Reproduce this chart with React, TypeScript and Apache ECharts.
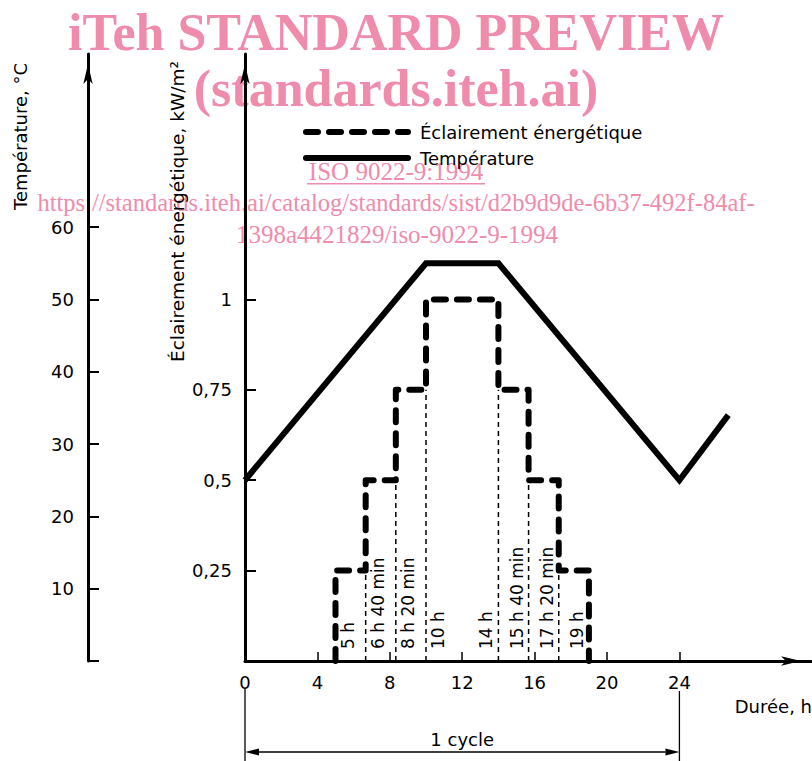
import React, { useEffect, useRef } from "react";
import * as echarts from "echarts";

// ---- data ----
const hourLabels = [0, 4, 8, 12, 16, 20, 24];
const hourTicks = [4, 8, 12, 16, 20, 24];
const tempLabels = [10, 20, 30, 40, 50, 60];
const tempTicks = [0, 10, 20, 30, 40, 50, 60];
const irrLabels = [0.25, 0.5, 0.75, 1];

const tempHours = [0, 10, 14, 24, 26.7];
const tempValues = [25, 55, 55, 25, 34];

const stepHours = [5, 6.667, 8.333, 10, 14, 15.667, 17.333, 19];
const stepLevels = [0.25, 0.5, 0.75, 1, 0.75, 0.5, 0.25, 0];

const guideHours = [6.667, 8.333, 10, 14, 15.667, 17.333];
const guideTops = [0.25, 0.5, 0.75, 0.75, 0.5, 0.25];

const markHours = [5, 6.667, 8.333, 10, 14, 15.667, 17.333, 19];
const markTexts = ["5 h", "6 h 40 min", "8 h 20 min", "10 h", "14 h", "15 h 40 min", "17 h 20 min", "19 h"];
const markSides = [1, 1, 1, 1, -1, -1, -1, -1];

const cycleHours = [0, 24];

const NAME_IRR = "Éclairement énergétique";
const NAME_TEMP = "Température";

const FONT = '"DejaVu Sans", "Noto Sans", sans-serif';
const SERIF = '"Liberation Serif", "DejaVu Serif", serif';
const PINK = "#ef8cab";

export default function App() {
  const ref = useRef<HTMLDivElement>(null);

  useEffect(() => {
    document.body.style.margin = "0";
    if (!ref.current) return;
    const chart = echarts.init(ref.current, undefined, { renderer: "svg" });

    const stepData: number[][] = [];
    let prev = 0;
    stepHours.forEach((h, i) => {
      stepData.push([h, prev]);
      stepData.push([h, stepLevels[i]]);
      prev = stepLevels[i];
    });

    const irrMax = 1.6787;
    const tempMax = irrMax * 50;

    const axisLine = {
      show: true,
      onZero: false,
      lineStyle: { color: "#000", width: 3 },
      symbol: ["none", "arrow"],
      symbolSize: [7, 20],
      symbolOffset: [0, -10],
    };
    const labelStyle = { color: "#000", fontSize: 18, fontFamily: FONT };

    const option: any = {
      animation: false,
      backgroundColor: "#fff",
      grid: { left: 245, top: 54, right: 1, bottom: 100, containLabel: false },
      legend: {
        data: [NAME_IRR, NAME_TEMP],
        orient: "vertical",
        left: 298,
        top: 118,
        itemWidth: 102,
        itemHeight: 14,
        itemGap: 8,
        itemStyle: { opacity: 0 },
        lineStyle: { width: 6, cap: "round" },
        textStyle: { color: "#000", fontSize: 18, fontFamily: FONT, padding: [0, 0, 0, 7] },
      },
      xAxis: {
        type: "value",
        min: 0,
        max: 31.27,
        axisLine,
        axisTick: { show: true, inside: true, length: 9, customValues: hourTicks, lineStyle: { color: "#000", width: 1.5 } },
        axisLabel: { ...labelStyle, margin: 12, customValues: hourLabels, formatter: (v: number) => String(v) },
        splitLine: { show: false },
      },
      yAxis: [
        {
          type: "value",
          min: 0,
          max: irrMax,
          position: "left",
          axisLine,
          axisTick: { show: true, inside: true, length: 11, customValues: irrLabels, lineStyle: { color: "#000", width: 2 } },
          axisLabel: {
            ...labelStyle,
            margin: 13,
            customValues: irrLabels,
            formatter: (v: number) => String(v).replace(".", ","),
          },
          splitLine: { show: false },
        },
        {
          type: "value",
          min: 0,
          max: tempMax,
          position: "left",
          offset: 157,
          axisLine,
          axisTick: { show: true, inside: true, length: 11, customValues: tempTicks, lineStyle: { color: "#000", width: 2 } },
          axisLabel: { ...labelStyle, margin: 14, customValues: tempLabels, formatter: (v: number) => String(v) },
          splitLine: { show: false },
        },
      ],
      series: [
        {
          name: NAME_IRR,
          type: "line",
          yAxisIndex: 0,
          data: stepData,
          symbol: "none",
          clip: false,
          z: 4,
          lineStyle: { color: "#000", width: 6, type: [12, 11], cap: "round", join: "round" },
          itemStyle: { color: "#000" },
        },
        {
          name: NAME_TEMP,
          type: "line",
          yAxisIndex: 1,
          data: tempHours.map((h, i) => [h, tempValues[i]]),
          symbol: "none",
          clip: false,
          z: 4,
          lineStyle: { color: "#000", width: 6, join: "miter" },
          itemStyle: { color: "#000" },
        },
        {
          name: "guides",
          type: "custom",
          yAxisIndex: 0,
          data: guideHours.map((h, i) => [h, guideTops[i]]),
          renderItem: (params: any, api: any) => {
            const h = api.value(0);
            const top = api.value(1);
            const a = api.coord([h, 0]);
            const b = api.coord([h, top]);
            return {
              type: "line",
              shape: { x1: a[0], y1: a[1], x2: b[0], y2: b[1] },
              style: { stroke: "#000", lineWidth: 1.5, lineDash: [5, 4] },
            };
          },
          z: 3,
        },
        {
          name: "marks",
          type: "custom",
          yAxisIndex: 0,
          data: markHours.map((h, i) => [h, i]),
          renderItem: (params: any, api: any) => {
            const h = api.value(0);
            const i = api.value(1);
            const p = api.coord([h, 0]);
            return {
              type: "text",
              x: p[0] + markSides[i] * 12,
              y: p[1] - 12,
              rotation: Math.PI / 2,
              style: {
                text: markTexts[i],
                fill: "#000",
                fontSize: 17,
                fontFamily: FONT,
                align: "left",
                verticalAlign: "middle",
              },
            };
          },
          z: 5,
        },
        {
          name: "cycle",
          type: "custom",
          yAxisIndex: 0,
          clip: false,
          data: [[cycleHours[0], cycleHours[1]]],
          renderItem: (params: any, api: any) => {
            const a = api.coord([api.value(0), 0]);
            const b = api.coord([api.value(1), 0]);
            const yArrow = a[1] + 91;
            const head = 14;
            const hw = 3.5;
            return {
              type: "group",
              children: [
                { type: "line", shape: { x1: a[0], y1: a[1] + 28, x2: a[0], y2: a[1] + 100 }, style: { stroke: "#000", lineWidth: 1.3 } },
                { type: "line", shape: { x1: b[0], y1: a[1] + 30, x2: b[0], y2: a[1] + 100 }, style: { stroke: "#000", lineWidth: 1.3 } },
                { type: "line", shape: { x1: a[0] + head, y1: yArrow, x2: b[0] - head, y2: yArrow }, style: { stroke: "#000", lineWidth: 1.5 } },
                {
                  type: "polygon",
                  shape: { points: [[a[0], yArrow], [a[0] + head, yArrow - hw], [a[0] + head, yArrow + hw]] },
                  style: { fill: "#000" },
                },
                {
                  type: "polygon",
                  shape: { points: [[b[0], yArrow], [b[0] - head, yArrow - hw], [b[0] - head, yArrow + hw]] },
                  style: { fill: "#000" },
                },
                {
                  type: "text",
                  x: (a[0] + b[0]) / 2,
                  y: a[1] + 78,
                  style: { text: "1 cycle", fill: "#000", fontSize: 18, fontFamily: FONT, align: "center", verticalAlign: "middle" },
                },
              ],
            };
          },
          z: 5,
        },
      ],
      graphic: [
        {
          type: "text",
          x: 20,
          y: 210,
          rotation: Math.PI / 2,
          style: { text: "Température, °C", fill: "#000", fontSize: 18, fontFamily: FONT, align: "left", verticalAlign: "middle" },
          z: 10,
        },
        {
          type: "text",
          x: 177,
          y: 362,
          rotation: Math.PI / 2,
          style: { text: "Éclairement énergétique, kW/m²", fill: "#000", fontSize: 18.5, fontFamily: FONT, align: "left", verticalAlign: "middle" },
          z: 10,
        },
        {
          type: "text",
          x: 812,
          y: 706,
          style: { text: "Durée, h", fill: "#000", fontSize: 18, fontFamily: FONT, align: "right", verticalAlign: "middle" },
          z: 10,
        },
        {
          type: "text",
          x: 396,
          y: 6,
          style: { text: "iTeh STANDARD PREVIEW", fill: PINK, fontSize: 52, fontWeight: "bold", fontFamily: SERIF, align: "center", verticalAlign: "top" },
          z: 0,
        },
        {
          type: "text",
          x: 396,
          y: 62,
          style: { text: "(standards.iteh.ai)", fill: PINK, fontSize: 52, fontWeight: "bold", fontFamily: SERIF, align: "center", verticalAlign: "top" },
          z: 0,
        },
        {
          type: "text",
          x: 396,
          y: 159,
          style: { text: "ISO 9022-9:1994", fill: PINK, fontSize: 25, fontFamily: SERIF, align: "center", verticalAlign: "top" },
          z: 0,
        },
        {
          type: "rect",
          shape: { x: 307, y: 183, width: 178, height: 1.5 },
          style: { fill: PINK },
          z: 0,
        },
        {
          type: "text",
          x: 396,
          y: 190,
          style: {
            text: "https://standards.iteh.ai/catalog/standards/sist/d2b9d9de-6b37-492f-84af-",
            fill: PINK,
            fontSize: 24.5,
            fontFamily: SERIF,
            align: "center",
            verticalAlign: "top",
          },
          z: 0,
        },
        {
          type: "text",
          x: 397,
          y: 222,
          style: { text: "1398a4421829/iso-9022-9-1994", fill: PINK, fontSize: 25, fontFamily: SERIF, align: "center", verticalAlign: "top" },
          z: 0,
        },
      ],
    };

    chart.setOption(option);
    return () => chart.dispose();
  }, []);

  return <div ref={ref} style={{ width: 812, height: 761 }} />;
}
